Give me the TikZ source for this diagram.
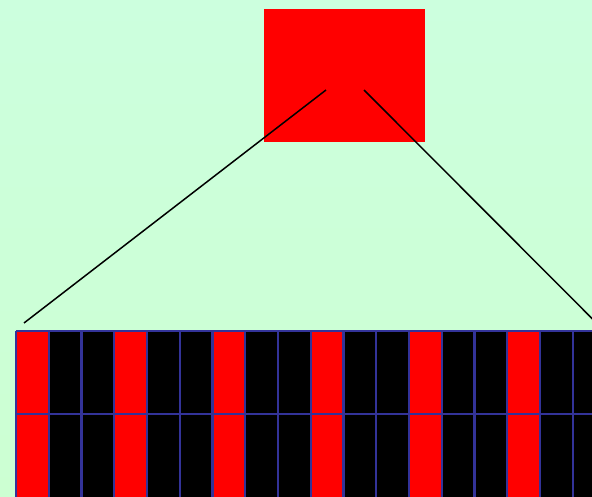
\documentclass[tikz,border=0pt]{standalone}
\usetikzlibrary{positioning}
\definecolor{bgtop}{RGB}{204,255,222}
\definecolor{bgbot}{RGB}{204,255,210}
\definecolor{gridline}{RGB}{51,51,153}
\tikzset{
  redbox/.style={fill=red, draw=none, inner sep=0pt, minimum width=161pt, minimum height=133pt},
  conn/.style={black, line width=1.5pt},
  gridln/.style={gridline, line width=2.2pt},
}
\begin{document}
\begin{tikzpicture}[x=1pt,y=-1pt]
\useasboundingbox (0,0) rectangle (592,497);
\clip (0,0) rectangle (592,497);
\shade[top color=bgtop, bottom color=bgbot] (0,0) rectangle (592,497);
\node[redbox] (box) at (344.5,75.5) {};
\coordinate (la) at (326,90);
\coordinate (ra) at (364,90);
\coordinate (lb) at (24,323);
\coordinate (rb) at (610,336.5);
\draw[conn] (la) -- (lb);
\draw[conn] (ra) -- (rb);
% strip
\foreach \i in {0,...,17}{
  \pgfmathsetmacro{\xa}{16+32.75*\i}
  \pgfmathsetmacro{\xb}{16+32.75*(\i+1)}
  \pgfmathtruncatemacro{\m}{mod(\i,3)}
  \ifnum\m=0
    \fill[red] (\xa,331) rectangle (\xb,520);
  \else
    \fill[black] (\xa,331) rectangle (\xb,520);
  \fi
}
\foreach \i in {0,...,18}{
  \pgfmathsetmacro{\xa}{16+32.75*\i}
  \draw[gridln] (\xa,331) -- (\xa,520);
}
\draw[gridln] (16,331) -- (620,331);
\draw[gridln] (16,414) -- (620,414);
\draw[gridln] (16,498) -- (620,498);
\end{tikzpicture}
\end{document}
